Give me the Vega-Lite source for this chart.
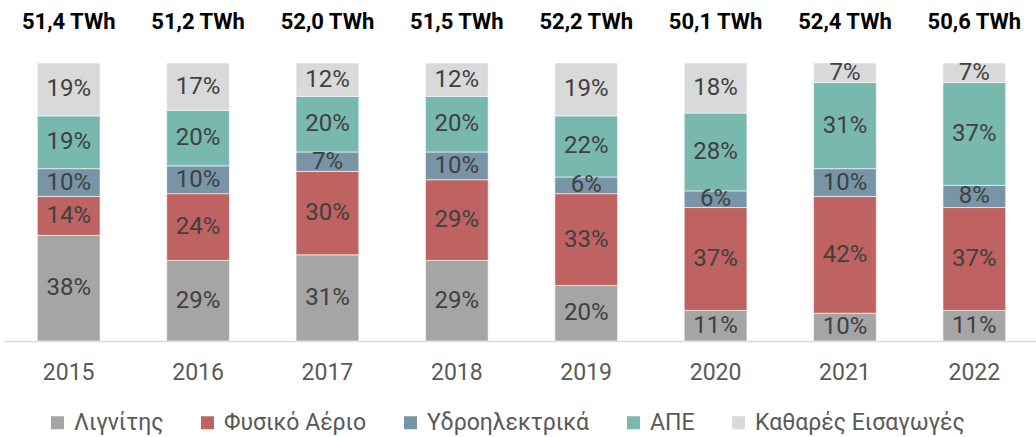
{
  "$schema": "https://vega.github.io/schema/vega-lite/v6.json",
  "autosize": {"type": "none"},
  "padding": {"left": 4, "top": 0, "right": 0, "bottom": 96},
  "width": 1035,
  "height": 341,
  "background": "white",
  "config": {
    "view": {"stroke": null},
    "font": "Roboto",
    "axis": {"labelFont": "Roboto"},
    "legend": {"labelFont": "Roboto"}
  },
  "datasets": {
    "shares": [
      {"year": "2015", "source": "Λιγνίτης", "k": 1, "pct": 0.38},
      {"year": "2015", "source": "Φυσικό Αέριο", "k": 2, "pct": 0.14},
      {"year": "2015", "source": "Υδροηλεκτρικά", "k": 3, "pct": 0.10},
      {"year": "2015", "source": "ΑΠΕ", "k": 4, "pct": 0.19},
      {"year": "2015", "source": "Καθαρές Εισαγωγές", "k": 5, "pct": 0.19},
      {"year": "2016", "source": "Λιγνίτης", "k": 1, "pct": 0.29},
      {"year": "2016", "source": "Φυσικό Αέριο", "k": 2, "pct": 0.24},
      {"year": "2016", "source": "Υδροηλεκτρικά", "k": 3, "pct": 0.10},
      {"year": "2016", "source": "ΑΠΕ", "k": 4, "pct": 0.20},
      {"year": "2016", "source": "Καθαρές Εισαγωγές", "k": 5, "pct": 0.17},
      {"year": "2017", "source": "Λιγνίτης", "k": 1, "pct": 0.31},
      {"year": "2017", "source": "Φυσικό Αέριο", "k": 2, "pct": 0.30},
      {"year": "2017", "source": "Υδροηλεκτρικά", "k": 3, "pct": 0.07},
      {"year": "2017", "source": "ΑΠΕ", "k": 4, "pct": 0.20},
      {"year": "2017", "source": "Καθαρές Εισαγωγές", "k": 5, "pct": 0.12},
      {"year": "2018", "source": "Λιγνίτης", "k": 1, "pct": 0.29},
      {"year": "2018", "source": "Φυσικό Αέριο", "k": 2, "pct": 0.29},
      {"year": "2018", "source": "Υδροηλεκτρικά", "k": 3, "pct": 0.10},
      {"year": "2018", "source": "ΑΠΕ", "k": 4, "pct": 0.20},
      {"year": "2018", "source": "Καθαρές Εισαγωγές", "k": 5, "pct": 0.12},
      {"year": "2019", "source": "Λιγνίτης", "k": 1, "pct": 0.20},
      {"year": "2019", "source": "Φυσικό Αέριο", "k": 2, "pct": 0.33},
      {"year": "2019", "source": "Υδροηλεκτρικά", "k": 3, "pct": 0.06},
      {"year": "2019", "source": "ΑΠΕ", "k": 4, "pct": 0.22},
      {"year": "2019", "source": "Καθαρές Εισαγωγές", "k": 5, "pct": 0.19},
      {"year": "2020", "source": "Λιγνίτης", "k": 1, "pct": 0.11},
      {"year": "2020", "source": "Φυσικό Αέριο", "k": 2, "pct": 0.37},
      {"year": "2020", "source": "Υδροηλεκτρικά", "k": 3, "pct": 0.06},
      {"year": "2020", "source": "ΑΠΕ", "k": 4, "pct": 0.28},
      {"year": "2020", "source": "Καθαρές Εισαγωγές", "k": 5, "pct": 0.18},
      {"year": "2021", "source": "Λιγνίτης", "k": 1, "pct": 0.10},
      {"year": "2021", "source": "Φυσικό Αέριο", "k": 2, "pct": 0.42},
      {"year": "2021", "source": "Υδροηλεκτρικά", "k": 3, "pct": 0.10},
      {"year": "2021", "source": "ΑΠΕ", "k": 4, "pct": 0.31},
      {"year": "2021", "source": "Καθαρές Εισαγωγές", "k": 5, "pct": 0.07},
      {"year": "2022", "source": "Λιγνίτης", "k": 1, "pct": 0.11},
      {"year": "2022", "source": "Φυσικό Αέριο", "k": 2, "pct": 0.37},
      {"year": "2022", "source": "Υδροηλεκτρικά", "k": 3, "pct": 0.08},
      {"year": "2022", "source": "ΑΠΕ", "k": 4, "pct": 0.37},
      {"year": "2022", "source": "Καθαρές Εισαγωγές", "k": 5, "pct": 0.07}
    ],
    "totals": [
      {"year": "2015", "label": "51,4 TWh"},
      {"year": "2016", "label": "51,2 TWh"},
      {"year": "2017", "label": "52,0 TWh"},
      {"year": "2018", "label": "51,5 TWh"},
      {"year": "2019", "label": "52,2 TWh"},
      {"year": "2020", "label": "50,1 TWh"},
      {"year": "2021", "label": "52,4 TWh"},
      {"year": "2022", "label": "50,6 TWh"}
    ]
  },
  "encoding": {
    "x": {
      "field": "year", "type": "nominal", "title": null,
      "scale": {"paddingInner": 0.515, "paddingOuter": 0.2575},
      "axis": {
        "labelAngle": 0, "ticks": false, "labelFontSize": 23, "labelColor": "#595959",
        "labelPadding": 20, "domainColor": "#D9D9D9", "domainWidth": 1.5, "grid": false
      }
    }
  },
  "layer": [
    {
      "data": {"name": "shares"},
      "mark": {"type": "bar", "stroke": "white", "strokeWidth": 0.6},
      "encoding": {
        "y": {"field": "pct", "type": "quantitative", "stack": "zero", "scale": {"domain": [0, 1.2266], "nice": false}, "axis": null},
        "color": {
          "field": "source", "type": "nominal",
          "scale": {
            "domain": ["Λιγνίτης", "Φυσικό Αέριο", "Υδροηλεκτρικά", "ΑΠΕ", "Καθαρές Εισαγωγές"],
            "range": ["#A5A5A5", "#BF6262", "#7895A8", "#79B8AE", "#D9D9D9"]
          },
          "legend": {
            "title": null, "orient": "none", "direction": "horizontal",
            "legendX": 42, "legendY": 411, "symbolType": "square", "symbolSize": 169,
            "symbolStrokeWidth": 0, "labelFontSize": 23, "labelColor": "#595959",
            "labelOffset": 5, "columnPadding": 32, "padding": 0, "labelLimit": 400
          }
        },
        "order": {"field": "k", "type": "quantitative"}
      }
    },
    {
      "data": {"name": "shares"},
      "mark": {"type": "text", "fontSize": 24, "color": "#404040", "baseline": "middle"},
      "encoding": {
        "y": {"field": "pct", "type": "quantitative", "stack": "zero", "bandPosition": 0.5},
        "detail": {"field": "source"},
        "order": {"field": "k", "type": "quantitative"},
        "text": {"field": "pct", "type": "quantitative", "format": ".0%"}
      }
    },
    {
      "data": {"name": "totals"},
      "mark": {"type": "text", "fontSize": 22, "fontWeight": "bold", "color": "#000000", "baseline": "middle"},
      "encoding": {
        "y": {"datum": 1.1475, "type": "quantitative"},
        "text": {"field": "label"}
      }
    }
  ]
}
